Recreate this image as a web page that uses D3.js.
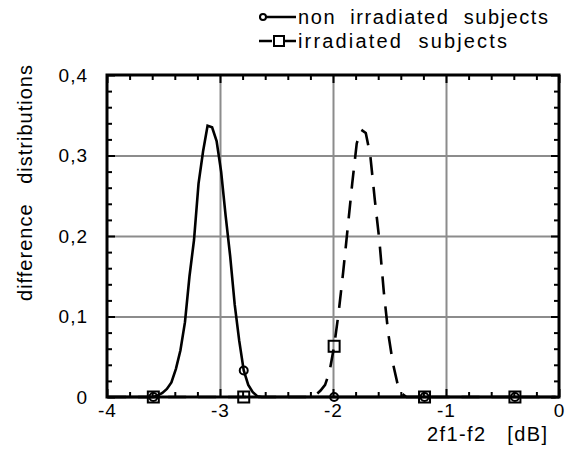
<!DOCTYPE html>
<html>
<head>
<meta charset="utf-8">
<script src="https://cdn.jsdelivr.net/npm/d3@7"></script>
<style>
  body { margin: 0; background: #fff; }
  svg { display: block; font-family: "Liberation Sans", Arial, sans-serif; }
</style>
</head>
<body>
<div id="chart"></div>
<script>
// Data
const xTicks = [-4, -3, -2, -1, 0];
const xTickLabels = ["-4", "-3", "-2", "-1", "0"];
const yTicks = [0, 0.1, 0.2, 0.3, 0.4];
const yTickLabels = ["0", "0,1", "0,2", "0,3", "0,4"];
const markerX = [-3.59, -2.79, -1.99, -1.19, -0.39];

const nonIrrX = [-3.99, -3.59, -3.55, -3.51, -3.47, -3.43, -3.39, -3.35, -3.31, -3.27, -3.23, -3.19, -3.15, -3.11, -3.07, -3.03, -2.99, -2.95, -2.91, -2.87, -2.83, -2.79, -2.75, -2.71, -2.67, -2.63, -1.99, -1.19, -0.39, -0.03];
const nonIrrY = [0, 0, 0.002, 0.005, 0.01, 0.018, 0.035, 0.058, 0.093, 0.15, 0.195, 0.265, 0.305, 0.337, 0.335, 0.318, 0.28, 0.225, 0.175, 0.115, 0.07, 0.033, 0.015, 0.006, 0.001, 0, 0, 0, 0, 0];

const irrX = [-3.99, -3.59, -2.79, -2.23, -2.19, -2.15, -2.11, -2.07, -2.03, -1.99, -1.95, -1.91, -1.87, -1.83, -1.79, -1.75, -1.71, -1.67, -1.63, -1.59, -1.55, -1.51, -1.47, -1.43, -1.39, -1.35, -1.19, -0.39, -0.03];
const irrY = [0, 0, 0, 0, 0.001, 0.003, 0.008, 0.015, 0.032, 0.063, 0.105, 0.155, 0.21, 0.265, 0.315, 0.332, 0.328, 0.3, 0.245, 0.195, 0.13, 0.078, 0.042, 0.017, 0.004, 0, 0, 0, 0];

const nonIrr = nonIrrX.map((x, i) => ({ x, y: nonIrrY[i] }));
const irr = irrX.map((x, i) => ({ x, y: irrY[i] }));

// Dimensions
const dimensions = {
  width: 567,
  height: 457,
  margin: { top: 75, right: 8, bottom: 60, left: 107 },
};
dimensions.containerWidth = dimensions.width - dimensions.margin.left - dimensions.margin.right;
dimensions.containerHeight = dimensions.height - dimensions.margin.top - dimensions.margin.bottom;

const svg = d3.select("#chart")
  .append("svg")
  .attr("width", dimensions.width)
  .attr("height", dimensions.height);

const container = svg.append("g")
  .attr("transform", `translate(${dimensions.margin.left}, ${dimensions.margin.top})`);

// Scales
const xScale = d3.scaleLinear().domain([-4, 0]).range([0, dimensions.containerWidth]);
const yScale = d3.scaleLinear().domain([0, 0.4]).range([dimensions.containerHeight, 0]);

const W = dimensions.containerWidth;
const H = dimensions.containerHeight;
const gridColor = "#8c8c8c";

// Gridlines
container.append("g")
  .attr("transform", `translate(0, ${H})`)
  .call(d3.axisBottom(xScale).tickValues(xTicks.slice(1, -1)).tickSize(-H).tickFormat(""))
  .call(g => g.select(".domain").remove())
  .call(g => g.selectAll("line").attr("stroke", gridColor).attr("stroke-width", 2));
container.append("g")
  .call(d3.axisLeft(yScale).tickValues(yTicks.slice(1, -1)).tickSize(-W).tickFormat(""))
  .call(g => g.select(".domain").remove())
  .call(g => g.selectAll("line").attr("stroke", gridColor).attr("stroke-width", 2));

// Inward ticks on all sides
const xMinor = d3.range(-3.8, 0, 0.2).filter(v => Math.abs(v - Math.round(v)) > 1e-6);
const yMinor = d3.range(0.02, 0.4, 0.02).filter(v => Math.abs(v * 10 - Math.round(v * 10)) > 1e-6);

function tickStyle(g) {
  g.select(".domain").remove();
  g.selectAll("line").attr("stroke", "#000").attr("stroke-width", 2);
}
container.append("g").attr("transform", `translate(0, ${H})`)
  .call(d3.axisBottom(xScale).tickValues(xMinor).tickSize(-5).tickFormat("")).call(tickStyle);
container.append("g")
  .call(d3.axisTop(xScale).tickValues(xMinor).tickSize(-5).tickFormat("")).call(tickStyle);
container.append("g").attr("transform", `translate(0, ${H})`)
  .call(d3.axisBottom(xScale).tickValues(xTicks).tickSize(-8).tickFormat("")).call(tickStyle);
container.append("g")
  .call(d3.axisTop(xScale).tickValues(xTicks).tickSize(-8).tickFormat("")).call(tickStyle);
container.append("g")
  .call(d3.axisLeft(yScale).tickValues(yMinor).tickSize(-5).tickFormat("")).call(tickStyle);
container.append("g").attr("transform", `translate(${W}, 0)`)
  .call(d3.axisRight(yScale).tickValues(yMinor).tickSize(-5).tickFormat("")).call(tickStyle);
container.append("g")
  .call(d3.axisLeft(yScale).tickValues(yTicks).tickSize(-8).tickFormat("")).call(tickStyle);
container.append("g").attr("transform", `translate(${W}, 0)`)
  .call(d3.axisRight(yScale).tickValues(yTicks).tickSize(-8).tickFormat("")).call(tickStyle);

// Frame
container.append("rect")
  .attr("width", W).attr("height", H)
  .attr("fill", "none").attr("stroke", "#000").attr("stroke-width", 3);

// Tick labels
const xLabelAxis = container.append("g")
  .attr("transform", `translate(0, ${H})`)
  .call(d3.axisBottom(xScale).tickValues(xTicks).tickSize(0).tickPadding(7)
    .tickFormat((d, i) => xTickLabels[i]));
const yLabelAxis = container.append("g")
  .call(d3.axisLeft(yScale).tickValues(yTicks).tickSize(0).tickPadding(19)
    .tickFormat((d, i) => yTickLabels[i]));
[xLabelAxis, yLabelAxis].forEach(g => {
  g.select(".domain").remove();
  g.selectAll("text")
    .attr("font-family", "Liberation Sans, Arial, sans-serif")
    .attr("font-size", 19)
    .attr("letter-spacing", 1)
    .attr("fill", "#000");
});

// Lines
const line = d3.line().x(d => xScale(d.x)).y(d => yScale(d.y));

container.append("path")
  .datum(irr)
  .attr("d", line)
  .attr("fill", "none")
  .attr("stroke", "#000")
  .attr("stroke-width", 2.6)
  .attr("stroke-dasharray", "18,12");

container.append("path")
  .datum(nonIrr)
  .attr("d", line)
  .attr("fill", "none")
  .attr("stroke", "#000")
  .attr("stroke-width", 2.6);

// Markers
const near = (a, b) => Math.abs(a - b) < 1e-6;
const sq = 11;
container.append("g")
  .selectAll("rect")
  .data(irr.filter(d => markerX.some(m => near(m, d.x))))
  .join("rect")
  .attr("x", d => xScale(d.x) - sq / 2)
  .attr("y", d => yScale(d.y) - sq / 2)
  .attr("width", sq).attr("height", sq)
  .attr("fill", "none").attr("stroke", "#000").attr("stroke-width", 2);

container.append("g")
  .selectAll("circle")
  .data(nonIrr.filter(d => markerX.some(m => near(m, d.x))))
  .join("circle")
  .attr("cx", d => xScale(d.x))
  .attr("cy", d => yScale(d.y))
  .attr("r", 4)
  .attr("fill", "none").attr("stroke", "#000").attr("stroke-width", 2);

// Axis titles
svg.append("text")
  .attr("x", 427).attr("y", 441)
  .attr("font-size", 20)
  .attr("textLength", 120).attr("lengthAdjust", "spacing")
  .attr("xml:space", "preserve")
  .text("2f1-f2   [dB]");

svg.append("text")
  .attr("transform", "translate(32, 183) rotate(-90)")
  .attr("text-anchor", "middle")
  .attr("font-size", 20)
  .attr("textLength", 236).attr("lengthAdjust", "spacing")
  .attr("xml:space", "preserve")
  .text("difference   distributions");

// Legend
const legend = svg.append("g");
const legendRows = [
  { label: "non  irradiated  subjects", y: 17, marker: "circle", mx: 263, len: 250 },
  { label: "irradiated  subjects", y: 41, marker: "square", mx: 279, len: 209 },
];
legendRows.forEach(r => {
  if (r.marker === "circle") {
    legend.append("line")
      .attr("x1", 259).attr("x2", 296).attr("y1", r.y).attr("y2", r.y)
      .attr("stroke", "#000").attr("stroke-width", 2.6);
    legend.append("circle").attr("cx", r.mx).attr("cy", r.y).attr("r", 3)
      .attr("fill", "#fff").attr("stroke", "#000").attr("stroke-width", 2);
  } else {
    legend.append("line")
      .attr("x1", 259).attr("x2", 296).attr("y1", r.y).attr("y2", r.y)
      .attr("stroke", "#000").attr("stroke-width", 2.6)
      .attr("stroke-dasharray", "13,4,20");
    legend.append("rect").attr("x", r.mx - 5).attr("y", r.y - 5)
      .attr("width", 10).attr("height", 10)
      .attr("fill", "#fff").attr("stroke", "#000").attr("stroke-width", 2);
  }
  legend.append("text")
    .attr("x", 298).attr("y", r.y + 7)
    .attr("font-size", 20)
    .attr("textLength", r.len).attr("lengthAdjust", "spacing")
    .attr("xml:space", "preserve")
    .text(r.label);
});
</script>
</body>
</html>
